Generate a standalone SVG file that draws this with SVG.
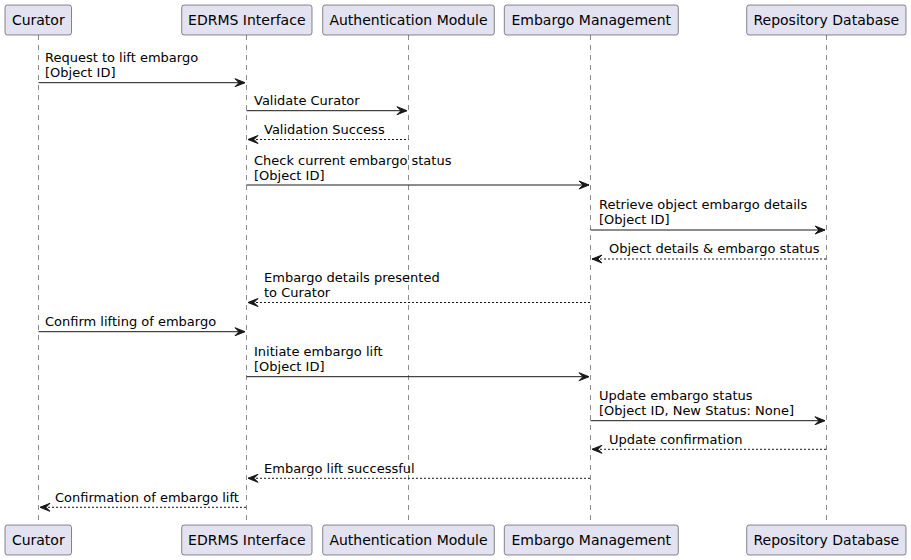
<svg xmlns="http://www.w3.org/2000/svg" width="911" height="560" viewBox="0 0 911 560">
<style>
.box{fill:#E2E2F0;stroke:#181818;stroke-width:0.5}
.t{font-family:"DejaVu Sans",sans-serif;font-size:13px;fill:#000}
.pt{font-family:"DejaVu Sans",sans-serif;font-size:14px;fill:#000;text-anchor:middle}
.life{stroke:#181818;stroke-width:0.5;stroke-dasharray:5,5;fill:none}
.msg{stroke:#181818;stroke-width:1;fill:none}
.ret{stroke:#181818;stroke-width:1;stroke-dasharray:2,2;fill:none}
.head{fill:#181818;stroke:#181818;stroke-width:1}
</style>
<rect width="911" height="560" fill="#FFFFFF"/>
<g id="lifelines">
<line class="life" x1="38.5" y1="35" x2="38.5" y2="525"/>
<line class="life" x1="246.5" y1="35" x2="246.5" y2="525"/>
<line class="life" x1="408.5" y1="35" x2="408.5" y2="525"/>
<line class="life" x1="590.5" y1="35" x2="590.5" y2="525"/>
<line class="life" x1="826.5" y1="35" x2="826.5" y2="525"/>
</g>
<g id="curator">
<rect class="box" x="5" y="5" width="66.5" height="30" rx="2.5"/>
<text class="pt" x="38.3" y="25">Curator</text>
<rect class="box" x="5" y="525" width="66.5" height="30" rx="2.5"/>
<text class="pt" x="38.3" y="545">Curator</text>
</g>
<g id="edrms">
<rect class="box" x="181.7" y="5" width="130.3" height="30" rx="2.5"/>
<text class="pt" x="246.8" y="25">EDRMS Interface</text>
<rect class="box" x="181.7" y="525" width="130.3" height="30" rx="2.5"/>
<text class="pt" x="246.8" y="545">EDRMS Interface</text>
</g>
<g id="auth">
<rect class="box" x="322.7" y="5" width="171.6" height="30" rx="2.5"/>
<text class="pt" x="408.5" y="25">Authentication Module</text>
<rect class="box" x="322.7" y="525" width="171.6" height="30" rx="2.5"/>
<text class="pt" x="408.5" y="545">Authentication Module</text>
</g>
<g id="embargo">
<rect class="box" x="504.3" y="5" width="174" height="30" rx="2.5"/>
<text class="pt" x="591.3" y="25">Embargo Management</text>
<rect class="box" x="504.3" y="525" width="174" height="30" rx="2.5"/>
<text class="pt" x="591.3" y="545">Embargo Management</text>
</g>
<g id="repo">
<rect class="box" x="746.7" y="5" width="159.3" height="30" rx="2.5"/>
<text class="pt" x="826.3" y="25">Repository Database</text>
<rect class="box" x="746.7" y="525" width="159.3" height="30" rx="2.5"/>
<text class="pt" x="826.3" y="545">Repository Database</text>
</g>
<g id="connectors">
<!-- 1 -->
<line class="msg" x1="38.5" y1="82.7" x2="245" y2="82.7"/>
<polygon class="head" points="235,78.7 245,82.7 235,86.7 239,82.7"/>
<text class="t" x="45" y="62">Request to lift embargo</text>
<text class="t" x="45" y="77">[Object ID]</text>
<!-- 2 -->
<line class="msg" x1="246.5" y1="110.7" x2="407" y2="110.7"/>
<polygon class="head" points="397,106.7 407,110.7 397,114.7 401,110.7"/>
<text class="t" x="254" y="105">Validate Curator</text>
<!-- 3 -->
<line class="ret" x1="248" y1="139.5" x2="408.5" y2="139.5"/>
<polygon class="head" points="258,135.5 248,139.5 258,143.5 254,139.5"/>
<text class="t" x="264" y="134">Validation Success</text>
<!-- 4 -->
<line class="msg" x1="246.5" y1="185" x2="589" y2="185"/>
<polygon class="head" points="579,181 589,185 579,189 583,185"/>
<text class="t" x="254" y="164.5">Check current embargo status</text>
<text class="t" x="254" y="179.5">[Object ID]</text>
<!-- 5 -->
<line class="msg" x1="590.5" y1="230" x2="825" y2="230"/>
<polygon class="head" points="815,226 825,230 815,234 819,230"/>
<text class="t" x="599" y="209">Retrieve object embargo details</text>
<text class="t" x="599" y="224">[Object ID]</text>
<!-- 6 -->
<line class="ret" x1="592" y1="259" x2="826.5" y2="259"/>
<polygon class="head" points="602,255 592,259 602,263 598,259"/>
<text class="t" x="609" y="253">Object details &amp; embargo status</text>
<!-- 7 -->
<line class="ret" x1="248" y1="302.5" x2="590.5" y2="302.5"/>
<polygon class="head" points="258,298.5 248,302.5 258,306.5 254,302.5"/>
<text class="t" x="264" y="282">Embargo details presented</text>
<text class="t" x="264" y="297">to Curator</text>
<!-- 8 -->
<line class="msg" x1="38.5" y1="331.7" x2="245" y2="331.7"/>
<polygon class="head" points="235,327.7 245,331.7 235,335.7 239,331.7"/>
<text class="t" x="45" y="326">Confirm lifting of embargo</text>
<!-- 9 -->
<line class="msg" x1="246.5" y1="376.7" x2="589" y2="376.7"/>
<polygon class="head" points="579,372.7 589,376.7 579,380.7 583,376.7"/>
<text class="t" x="254" y="356">Initiate embargo lift</text>
<text class="t" x="254" y="371">[Object ID]</text>
<!-- 10 -->
<line class="msg" x1="590.5" y1="420.7" x2="825" y2="420.7"/>
<polygon class="head" points="815,416.7 825,420.7 815,424.7 819,420.7"/>
<text class="t" x="599" y="400">Update embargo status</text>
<text class="t" x="599" y="415">[Object ID, New Status: None]</text>
<!-- 11 -->
<line class="ret" x1="592" y1="449.3" x2="826.5" y2="449.3"/>
<polygon class="head" points="602,445.3 592,449.3 602,453.3 598,449.3"/>
<text class="t" x="609" y="444">Update confirmation</text>
<!-- 12 -->
<line class="ret" x1="248" y1="478.3" x2="590.5" y2="478.3"/>
<polygon class="head" points="258,474.3 248,478.3 258,482.3 254,478.3"/>
<text class="t" x="264" y="473">Embargo lift successful</text>
<!-- 13 -->
<line class="ret" x1="40" y1="507.3" x2="246.5" y2="507.3"/>
<polygon class="head" points="50,503.3 40,507.3 50,511.3 46,507.3"/>
<text class="t" x="55" y="502">Confirmation of embargo lift</text>
</g>
</svg>
